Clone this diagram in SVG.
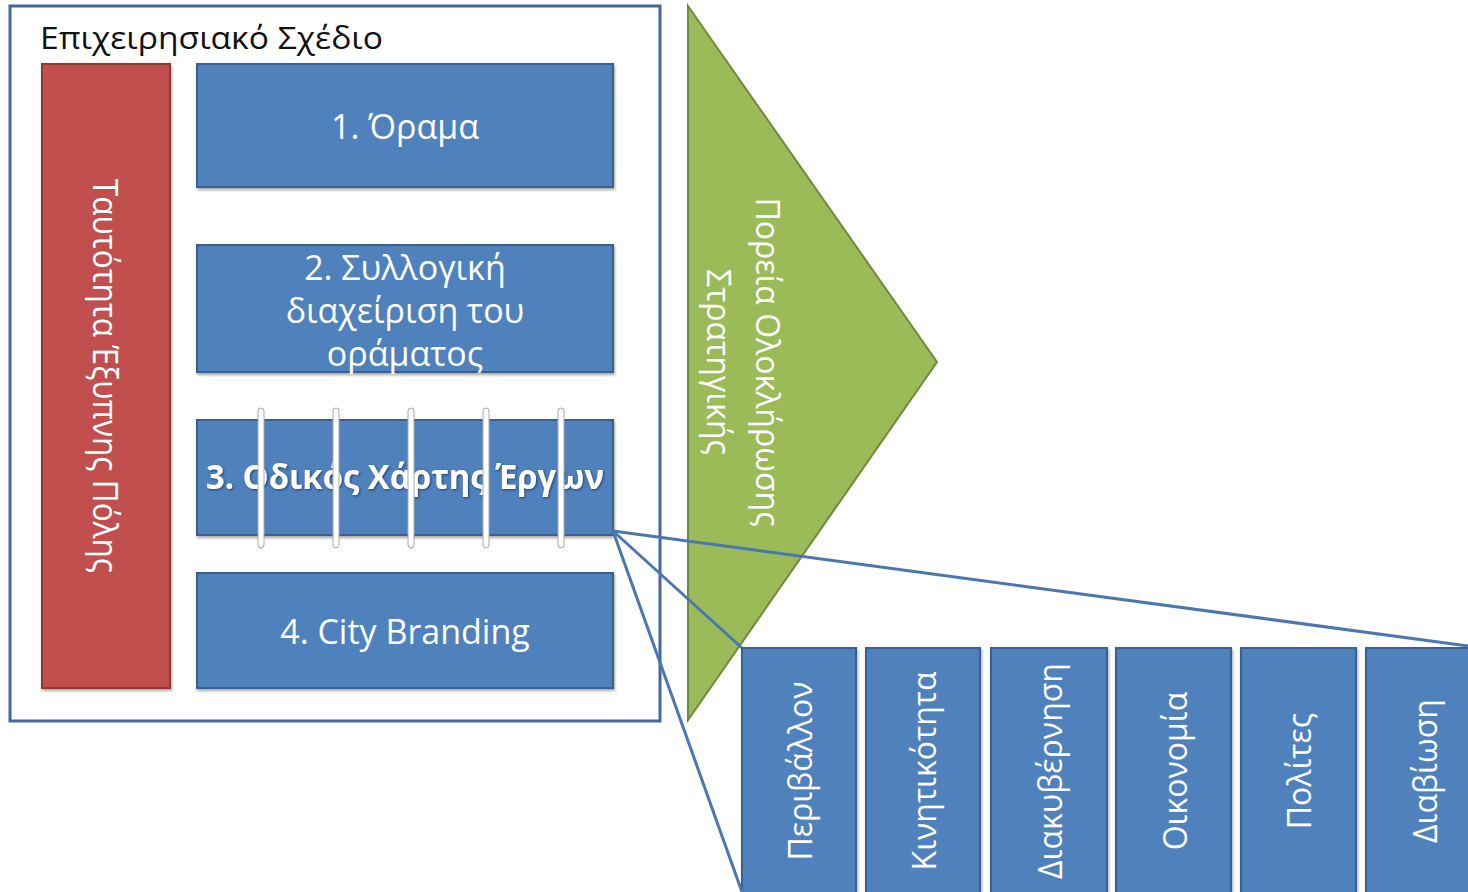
<svg xmlns="http://www.w3.org/2000/svg" width="1468" height="892" viewBox="0 0 1468 892">
<defs>
<filter id="sh" x="-10%" y="-10%" width="120%" height="120%">
<feDropShadow dx="1" dy="2" stdDeviation="1.5" flood-color="#000" flood-opacity="0.35"/>
</filter>
<filter id="tsh" x="-5%" y="-20%" width="110%" height="140%">
<feDropShadow dx="1" dy="1" stdDeviation="1" flood-color="#1a3050" flood-opacity="0.8"/>
</filter>
</defs>
<style>
.blue{fill:#4f81bd;stroke:#3a6090;stroke-width:2}
.red{fill:#c0504d;stroke:#8c3836;stroke-width:2}
.green{fill:#9bbb59;stroke:#71893f;stroke-width:2}
.t{font-family:"Open Sans","Noto Sans","DejaVu Sans",sans-serif;fill:#ffffff;font-size:34px}
.tg{font-family:"Open Sans","Noto Sans","DejaVu Sans",sans-serif;fill:#ffffff;font-size:32px}
.bar{fill:#ffffff;stroke:#a8a8a8;stroke-width:1}
.conn{stroke:#4a77b0;stroke-width:3;fill:none}
</style>
<rect width="1468" height="892" fill="#ffffff"/>

<g id="plan">
<rect x="10" y="6" width="650" height="715" fill="#ffffff" stroke="#44689c" stroke-width="3"/>
<text x="40" y="49" font-family="Open Sans, Noto Sans, sans-serif" font-size="31" fill="#111" textLength="343" lengthAdjust="spacingAndGlyphs">Επιχειρησιακό Σχέδιο</text>
</g>

<g id="identity">
<rect class="red" x="42" y="64" width="128" height="624" filter="url(#sh)"/>
<text class="t" transform="translate(106,376) rotate(90)" text-anchor="middle" dominant-baseline="central" font-size="32" textLength="394" lengthAdjust="spacingAndGlyphs">Ταυτότητα Έξυπνης Πόλης</text>
</g>

<g id="vision">
<rect class="blue" x="197" y="64" width="416" height="123" filter="url(#sh)"/>
<text class="t" x="405" y="139" text-anchor="middle">1. Όραμα</text>
</g>

<g id="management">
<rect class="blue" x="197" y="245" width="416" height="127" filter="url(#sh)"/>
<text class="t" x="405" y="280" text-anchor="middle">2. Συλλογική</text>
<text class="t" x="405" y="323" text-anchor="middle">διαχείριση του</text>
<text class="t" x="405" y="366" text-anchor="middle">οράματος</text>
</g>

<g id="roadmap">
<rect class="blue" x="197" y="420" width="416" height="115" filter="url(#sh)"/>
<text class="t" x="405" y="489" text-anchor="middle" font-weight="bold" font-size="32" filter="url(#tsh)" textLength="398" lengthAdjust="spacingAndGlyphs">3. Οδικός Χάρτης Έργων</text>
<rect class="bar" x="258" y="408" width="6" height="140" rx="3"/>
<rect class="bar" x="333" y="408" width="6" height="140" rx="3"/>
<rect class="bar" x="408" y="408" width="6" height="140" rx="3"/>
<rect class="bar" x="483" y="408" width="6" height="140" rx="3"/>
<rect class="bar" x="558" y="408" width="6" height="140" rx="3"/>
</g>

<g id="branding">
<rect class="blue" x="197" y="573" width="416" height="115" filter="url(#sh)"/>
<text class="t" x="405" y="644" text-anchor="middle">4. City Branding</text>
</g>

<g id="strategy">
<polygon class="green" points="688,6 937,362 688,720"/>
<g transform="translate(768,362) rotate(90)">
<text class="tg" x="0" y="0" text-anchor="middle" dominant-baseline="central">Πορεία Ολοκλήρωσης</text>
<text class="tg" x="0" y="49" text-anchor="middle" dominant-baseline="central">Στρατηγικής</text>
</g>
</g>

<g id="env">
<rect class="blue" x="742" y="648" width="114" height="250" filter="url(#sh)"/>
<text class="tg" transform="translate(799,771) rotate(-90)" text-anchor="middle" dominant-baseline="central">Περιβάλλον</text>
</g>
<g id="mobility">
<rect class="blue" x="866" y="648" width="114" height="250" filter="url(#sh)"/>
<text class="tg" transform="translate(923,771) rotate(-90)" text-anchor="middle" dominant-baseline="central">Κινητικότητα</text>
</g>
<g id="governance">
<rect class="blue" x="991" y="648" width="116" height="250" filter="url(#sh)"/>
<text class="tg" transform="translate(1049,771) rotate(-90)" text-anchor="middle" dominant-baseline="central">Διακυβέρνηση</text>
</g>
<g id="economy">
<rect class="blue" x="1116" y="648" width="115" height="250" filter="url(#sh)"/>
<text class="tg" transform="translate(1174,771) rotate(-90)" text-anchor="middle" dominant-baseline="central">Οικονομία</text>
</g>
<g id="citizens">
<rect class="blue" x="1241" y="648" width="115" height="250" filter="url(#sh)"/>
<text class="tg" transform="translate(1298,771) rotate(-90)" text-anchor="middle" dominant-baseline="central">Πολίτες</text>
</g>
<g id="living">
<rect class="blue" x="1366" y="648" width="115" height="250" filter="url(#sh)"/>
<text class="tg" transform="translate(1424,771) rotate(-90)" text-anchor="middle" dominant-baseline="central">Διαβίωση</text>
</g>

<g id="connectors">
<line class="conn" x1="613" y1="531" x2="1468" y2="646"/>
<line class="conn" x1="613" y1="531" x2="742" y2="648"/>
<line class="conn" x1="613" y1="531" x2="742" y2="892"/>
</g>
</svg>
